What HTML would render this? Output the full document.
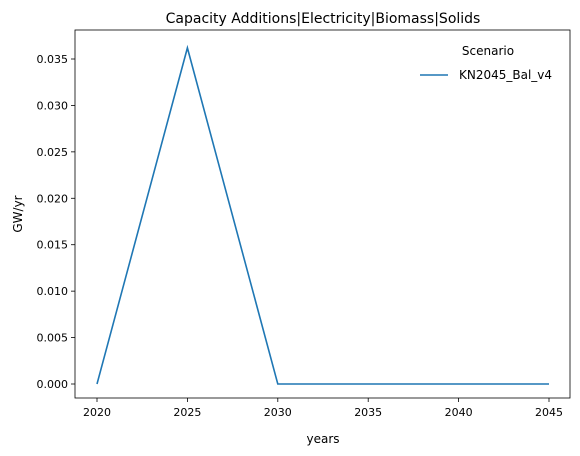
<!DOCTYPE html>
<html><head><meta charset="utf-8"><style>
body{margin:0;background:#fff;}
svg{display:block;font-family:"DejaVu Sans","Liberation Sans",sans-serif;}
</style></head><body>
<svg id="chart" width="580" height="456">
<rect x="0" y="0" width="580" height="456" fill="#fff"/>
<text x="323" y="23" text-anchor="middle" font-size="14">Capacity Additions|Electricity|Biomass|Solids</text>
<g id="axes"></g>
<text x="323" y="443" text-anchor="middle" font-size="12">years</text>
<text transform="translate(22,214) rotate(-90)" text-anchor="middle" font-size="12">GW/yr</text>
<g>
<text x="488" y="55" text-anchor="middle" font-size="12">Scenario</text>
<line x1="420" y1="75" x2="448" y2="75" stroke="#1f77b4" stroke-width="1.6"/>
<text x="459" y="79" font-size="12">KN2045_Bal_v4</text>
</g>
</svg>
<script>
const years=[2020,2025,2030,2035,2040,2045];
const values=[0,0.0362,0,0,0,0];
const yTicks=[0,0.005,0.01,0.015,0.02,0.025,0.03,0.035];
const yTickLabels=["0.000","0.005","0.010","0.015","0.020","0.025","0.030","0.035"];
const L=75,R=570,T=30,B=398;
const xs=v=>97+(v-2020)*(549-97)/25;
const ys=v=>384-v*(384-59)/0.035;
const ns="http://www.w3.org/2000/svg";
const g=document.getElementById('axes');
function mk(t,a){const e=document.createElementNS(ns,t);for(const k in a)e.setAttribute(k,a[k]);g.appendChild(e);return e;}
years.forEach(y=>{
const t=mk('line',{x1:xs(y),x2:xs(y),y1:B,y2:B+4,stroke:'#000','stroke-width':0.8});


const l=mk('text',{x:xs(y),y:B+18,'text-anchor':'middle','font-size':11});
l.textContent=y;


});
yTicks.forEach((v,i)=>{
const t=mk('line',{x1:L-4,x2:L,y1:ys(v),y2:ys(v),stroke:'#000','stroke-width':0.8});


const l=mk('text',{x:L-7,y:ys(v)+4,'text-anchor':'end','font-size':11});
l.textContent=yTickLabels[i];


});
const p=mk('polyline',{points:years.map((y,i)=>xs(y)+','+ys(values[i])).join(' '),fill:'none',stroke:'#1f77b4','stroke-width':1.6});


const f=mk('rect',{x:L,y:T,width:R-L,height:B-T,fill:'none',stroke:'#000','stroke-width':0.8});


</script>
</body></html>
